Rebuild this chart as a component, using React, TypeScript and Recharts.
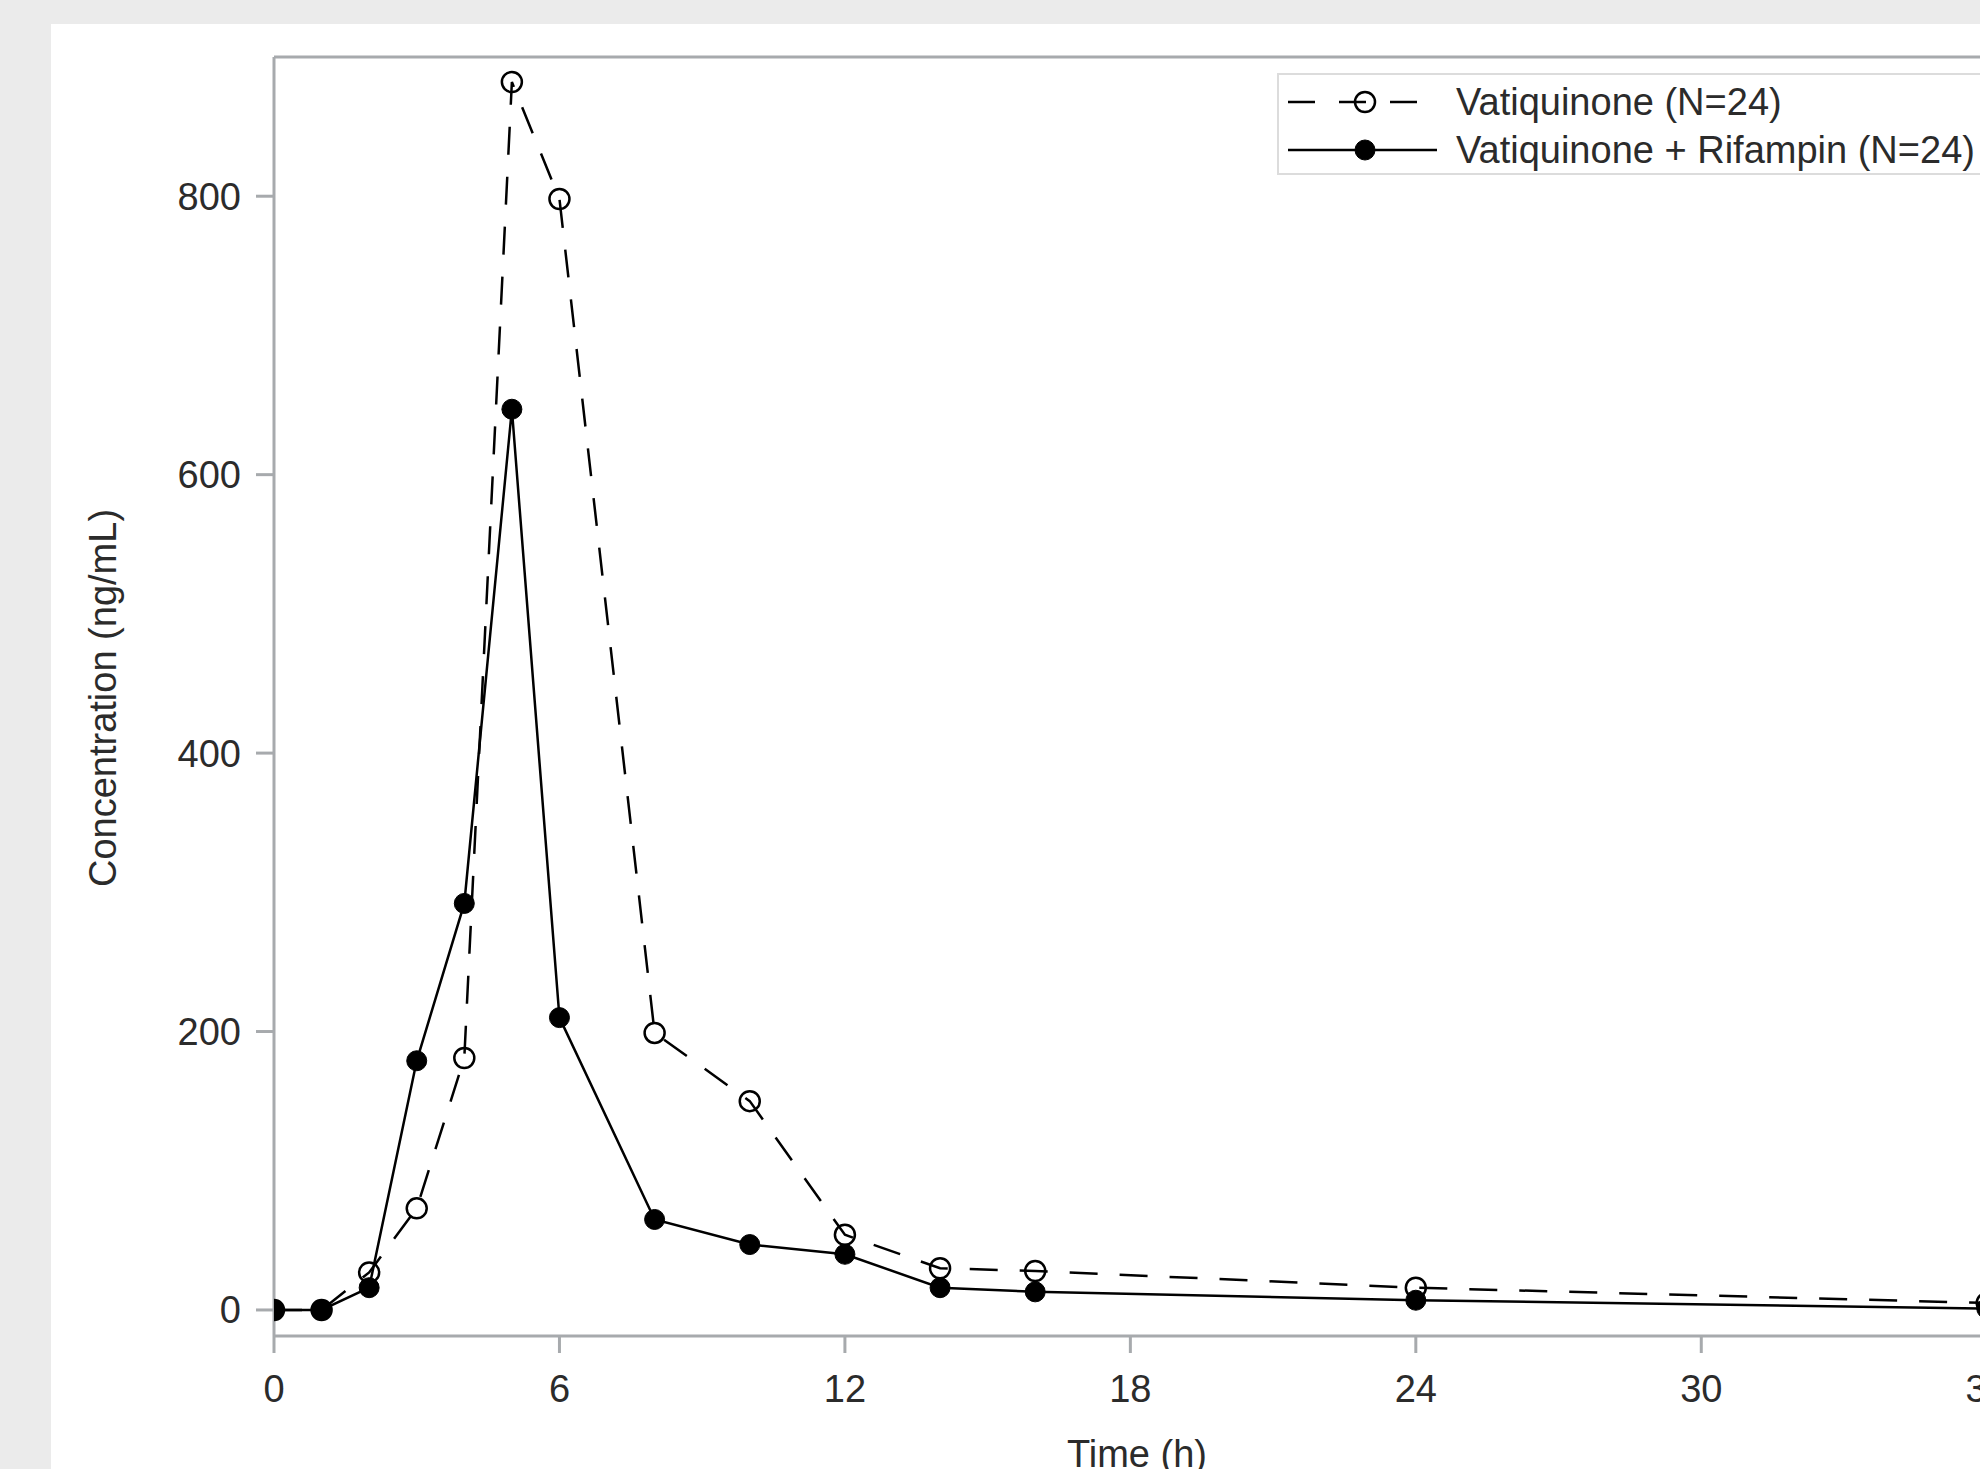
import { CartesianGrid, Legend, Line, LineChart, ReferenceLine, XAxis, YAxis } from 'recharts'

const times = [0, 1, 2, 3, 4, 5, 6, 8, 10, 12, 14, 16, 24, 36]
const vatiquinone = [0, 0, 27, 73, 181, 882, 798, 199, 150, 54, 30, 28, 16, 5]
const withRifampin = [0, 0, 16, 179, 292, 647, 210, 65, 47, 40, 16, 13, 7, 1]
const xTicks = [0, 6, 12, 18, 24, 30, 36]
const yTicks = [0, 200, 400, 600, 800]

const data = times.map((t, i) => ({ t, vati: vatiquinone[i], rif: withRifampin[i] }))

const FONT = '"Liberation Sans", Arial, sans-serif'
const AXIS = '#A7AAAD'
const tickStyle = { fontSize: 38, fill: '#2b2b2b', fontFamily: FONT }

function ChartLegend() {
  const rows = [
    { key: 'vati', label: 'Vatiquinone (N=24)', dashed: true },
    { key: 'rif', label: 'Vatiquinone + Rifampin (N=24)', dashed: false },
  ]
  return (
    <div style={{ width: 716, height: 98, border: '2px solid #DCDCDC', background: '#fff', boxSizing: 'content-box', fontFamily: FONT }}>
      {rows.map((r, i) => (
        <div key={r.key} style={{ position: 'absolute', left: 11, top: 7 + i * 48, height: 44, display: 'flex', alignItems: 'center' }}>
          <svg width={150} height={44}>
            <line x1={0} y1={22} x2={r.dashed ? 129 : 149} y2={22} stroke="#000" strokeWidth={2.5} strokeDasharray={r.dashed ? '27 24' : undefined} />
            <circle cx={77} cy={22} r={10} fill={r.dashed ? 'none' : '#000'} stroke="#000" strokeWidth={r.dashed ? 2.5 : 1} />
          </svg>
          <span style={{ marginLeft: 18, fontSize: 38, color: '#2b2b2b', whiteSpace: 'nowrap' }}>{r.label}</span>
        </div>
      ))}
    </div>
  )
}

export default function App() {
  return (
    <div style={{ position: 'relative', width: 1980, height: 1469, background: '#EBEBEB', overflow: 'hidden' }}>
      <style>{'body{margin:0}'}</style>
      <div style={{ position: 'absolute', left: 51, top: 24, width: 2000, height: 1500, background: '#fff' }} />
      <div style={{ position: 'absolute', left: 0, top: 0 }}>
        <LineChart width={2100} height={1469} data={data} margin={{ top: 57, right: 99, bottom: 0, left: 0 }}>
          <CartesianGrid stroke="none" />
          <XAxis
            dataKey="t"
            type="number"
            domain={[0, 36.3]}
            ticks={xTicks}
            interval={0}
            allowDataOverflow
            height={133}
            tickSize={17}
            tickMargin={22}
            tick={tickStyle}
            axisLine={{ stroke: AXIS, strokeWidth: 3 }}
            tickLine={{ stroke: AXIS, strokeWidth: 3 }}
            label={() => (
              <text x={1137} y={1467} textAnchor="middle" fontSize={38} fill="#2b2b2b" fontFamily={FONT}>
                Time (h)
              </text>
            )}
          />
          <YAxis
            type="number"
            domain={[-18.7, 900]}
            ticks={yTicks}
            interval={0}
            allowDataOverflow
            width={274}
            tickSize={18}
            tickMargin={15}
            tick={tickStyle}
            axisLine={{ stroke: AXIS, strokeWidth: 3 }}
            tickLine={{ stroke: AXIS, strokeWidth: 3 }}
            label={() => (
              <text x={116} y={698} transform="rotate(-90 116 698)" textAnchor="middle" fontSize={38} fill="#2b2b2b" fontFamily={FONT}>
                Concentration (ng/mL)
              </text>
            )}
          />
          <ReferenceLine y={900} stroke={AXIS} strokeWidth={3} />
          <Legend
            layout="vertical"
            align="center"
            verticalAlign="middle"
            wrapperStyle={{ left: 1277, top: 73, width: 720 }}
            content={() => <ChartLegend />}
          />
          <Line
            dataKey="vati"
            name="Vatiquinone (N=24)"
            type="linear"
            stroke="#000"
            strokeWidth={2.5}
            strokeDasharray="28 22"
            dot={{ r: 10, fill: 'none', stroke: '#000', strokeWidth: 2.5, strokeDasharray: 'none' }}
            isAnimationActive={false}
          />
          <Line
            dataKey="rif"
            name="Vatiquinone + Rifampin (N=24)"
            type="linear"
            stroke="#000"
            strokeWidth={2.5}
            dot={{ r: 10, fill: '#000', stroke: '#000', strokeWidth: 1 }}
            isAnimationActive={false}
          />
        </LineChart>
      </div>
    </div>
  )
}
